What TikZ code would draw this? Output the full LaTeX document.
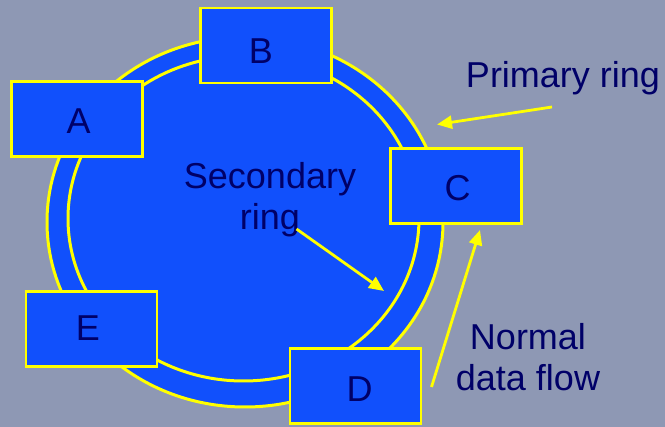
\documentclass[tikz,border=0pt]{standalone}
\usepackage{fontspec}
\setmainfont{Liberation Sans}
\usetikzlibrary{arrows.meta}
\definecolor{bgc}{RGB}{142,152,180}
\definecolor{ringblue}{RGB}{17,80,252}
\definecolor{ylw}{RGB}{255,255,0}
\definecolor{navy}{RGB}{0,0,104}
\begin{document}
\begin{tikzpicture}[x=1pt,y=-1pt,
  stationbox/.style={draw=ylw, line width=2.6pt, fill=ringblue,
    minimum width=131pt, minimum height=75pt, inner sep=0pt},
  lettr/.style={text=navy, inner sep=0pt, anchor=base,
    font=\fontsize{36}{42}\selectfont},
  lbl/.style={text=navy, inner sep=0pt, align=center,
    font=\fontsize{36}{41}\selectfont},
  yarrow/.style={draw=ylw, line width=2.8pt,
    -{Triangle[length=15pt,width=13pt]}},
  ringline/.style={draw=ylw, line width=3pt}]
\useasboundingbox (0,0) rectangle (665,427);
\fill[bgc] (0,0) rectangle (665,427);
% ring
\fill[ringblue] (245,222) ellipse [x radius=198pt, y radius=185pt];
\draw[ringline] (245,222) ellipse [x radius=198pt, y radius=185pt];
\draw[ringline] (243.5,218.5) ellipse [x radius=175.5pt, y radius=162.5pt];
% stations
\node[stationbox] (A) at (77,119) {};
\node[stationbox] (B) at (266,45.5) {};
\node[stationbox] (C) at (456,186) {};
\node[stationbox] (D) at (355.5,386) {};
\node[stationbox] (E) at (91.5,329) {};
\node[lettr] (At) at (78.7,134) {A};
\node[lettr] (Bt) at (261,64) {B};
\node[lettr] (Ct) at (457.5,200.5) {C};
\node[lettr] (Dt) at (359.5,402) {D};
\node[lettr] (Et) at (88,340.5) {E};
% labels
\node[text=navy, inner sep=0pt, anchor=base, font=\fontsize{36}{41}\selectfont] (prim) at (563,88) {Primary ring};
\node[lbl] (sec) at (270,200) {Secondary\\ring};
\node[lbl] (norm) at (528,357) {Normal\\data flow};
% arrows
\coordinate (p1) at (552,107);
\coordinate (p2) at (437,124.5);
\draw[yarrow] (p1) -- (p2);
\coordinate (s1) at (296.5,229);
\coordinate (s2) at (384,291);
\draw[yarrow] (s1) -- (s2);
\coordinate (n1) at (431.5,387);
\coordinate (n2) at (480,230);
\draw[yarrow] (n1) -- (n2);
\end{tikzpicture}
\end{document}
